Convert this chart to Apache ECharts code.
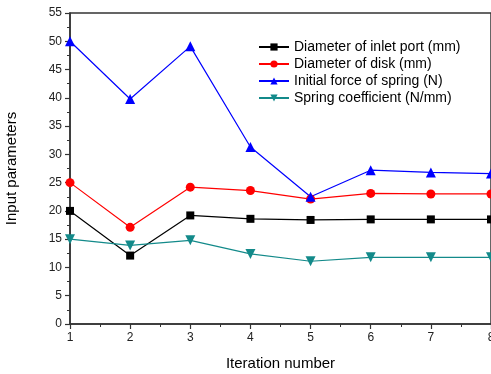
<!DOCTYPE html>
<html>
<head>
<meta charset="utf-8">
<script src="https://cdn.jsdelivr.net/npm/echarts@6/dist/echarts.min.js"></script>
<style>
  html, body { margin: 0; padding: 0; background: #fff; }
  #chart { width: 491px; height: 374px; }
</style>
</head>
<body>
<div id="chart"></div>
<script>
// iteration numbers on x
const iterations = [1, 2, 3, 4, 5, 6, 7, 8];
// values
const inletPort = [20, 12.1, 19.2, 18.6, 18.4, 18.5, 18.5, 18.5];
const diskDiameter = [25, 17.1, 24.2, 23.6, 22.1, 23.1, 23.0, 23.0];
const springForce = [50, 39.8, 49.1, 31.3, 22.5, 27.2, 26.8, 26.6];
const springCoef = [15, 13.9, 14.8, 12.4, 11.1, 11.8, 11.8, 11.8];
const seriesNames = [
  'Diameter of inlet port (mm)',
  'Diameter of disk (mm)',
  'Initial force of spring (N)',
  'Spring coefficient (N/mm)'
];

const chart = echarts.init(document.getElementById('chart'));

function makeSeries(name, values, color, symbol, size, rotate) {
  return {
    name: name,
    type: 'line',
    data: iterations.map((x, i) => [x, values[i]]),
    symbol: symbol,
    symbolSize: size,
    symbolRotate: rotate || 0,
    showAllSymbol: true,
    lineStyle: { color: color, width: 1.2 },
    itemStyle: { color: color },
    animation: false
  };
}

const axisCommon = {
  axisLine: { show: true, lineStyle: { color: '#333', width: 1.5 } },
  axisTick: { show: true, inside: false, length: 5, lineStyle: { color: '#333', width: 1.2 } },
  minorTick: { show: true, splitNumber: 2, length: 3, lineStyle: { color: '#333', width: 1 } },
  splitLine: { show: false },
  axisLabel: { color: '#222', fontSize: 12, fontFamily: 'Liberation Sans, Arial, sans-serif' }
};

const option = {
  backgroundColor: '#fff',
  grid: {
    left: 70, right: 0, top: 13, bottom: 50,
    outerBoundsMode: 'none',
    containLabel: false,
    show: true, borderColor: '#333', borderWidth: 1.5
  },
  legend: {
    orient: 'vertical',
    left: 253,
    top: 35,
    itemWidth: 30,
    itemHeight: 9,
    itemGap: 3,
    data: seriesNames,
    textStyle: { color: '#000', fontSize: 14, fontFamily: 'Liberation Sans, Arial, sans-serif' }
  },
  xAxis: Object.assign({}, axisCommon, {
    type: 'value',
    min: 1, max: 8, interval: 1,
    name: 'Iteration number',
    nameLocation: 'middle',
    nameGap: 32,
    nameTextStyle: { color: '#000', fontSize: 15, fontFamily: 'Liberation Sans, Arial, sans-serif' }
  }),
  yAxis: Object.assign({}, axisCommon, {
    type: 'value',
    min: 0, max: 55, interval: 5,
    name: 'Input parameters',
    nameLocation: 'middle',
    nameGap: 51,
    nameTextStyle: { color: '#000', fontSize: 15, fontFamily: 'Liberation Sans, Arial, sans-serif' }
  }),
  series: [
    makeSeries(seriesNames[0], inletPort, '#000000', 'rect', 8),
    makeSeries(seriesNames[1], diskDiameter, '#ff0000', 'circle', 9),
    makeSeries(seriesNames[2], springForce, '#0000ff', 'triangle', 10),
    makeSeries(seriesNames[3], springCoef, '#138a8a', 'triangle', 10, 180)
  ]
};

chart.setOption(option);
</script>
</body>
</html>
